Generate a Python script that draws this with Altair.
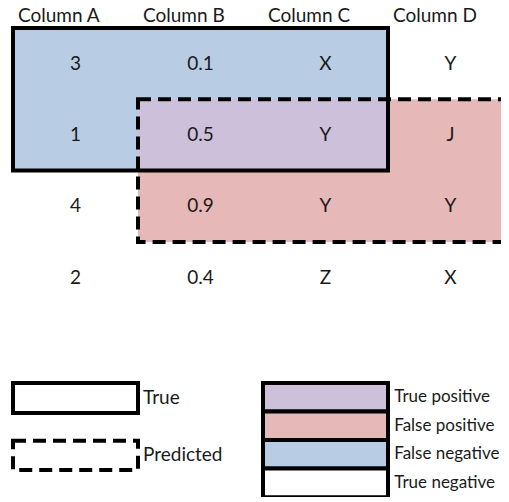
import altair as alt
import pandas as pd

# ---- data ----
columns = ["Column A", "Column B", "Column C", "Column D"]
col_a = ["3", "1", "4", "2"]
col_b = ["0.1", "0.5", "0.9", "0.4"]
col_c = ["X", "Y", "Y", "Z"]
col_d = ["Y", "J", "Y", "X"]
true_rows = [0, 1]
true_cols = [0, 1, 2]
pred_rows = [1, 2]
pred_cols = [1, 2, 3]
outline_labels = ["True", "Predicted"]
outcome_labels = ["True positive", "False positive", "False negative", "True negative"]
outcome_colors = ["#CCC0DA", "#E6B8B7", "#B8CCE4", "#FFFFFF"]

# ---- layout (column / row units) ----
W, H = 493, 489
XD = [-0.04, -0.04 + W / 125.0]
YD = [-0.2805, 6.578]
FONT = "Lato"
FS = 19
LFS = 17
TXT = "#1a1a1a"

xs = alt.Scale(domain=XD, range=[0, W], nice=False, zero=False)
ys = alt.Scale(domain=YD, range=[0, H], nice=False, zero=False)


def X(f):
    return alt.X(f"{f}:Q", scale=xs, axis=None)


def Y(f):
    return alt.Y(f"{f}:Q", scale=ys, axis=None)


# cells
cells = []
for c, vals in enumerate([col_a, col_b, col_c, col_d]):
    for r, v in enumerate(vals):
        cells.append({"x": c + 0.5, "y": r + 0.5, "t": v})
cells = pd.DataFrame(cells)
heads = pd.DataFrame({"x": [i + 0.04 for i in range(len(columns))], "y": [-0.084] * len(columns), "t": columns})

t0, t1 = min(true_cols), max(true_cols) + 1
tr0, tr1 = min(true_rows), max(true_rows) + 1
p0, p1 = min(pred_cols), max(pred_cols) + 1.3
pr0, pr1 = min(pred_rows), max(pred_rows) + 1

regions = pd.DataFrame([
    {"x": t0, "x2": t1, "y": tr0, "y2": tr1, "c": outcome_colors[2]},
    {"x": p0, "x2": p1, "y": pr0, "y2": pr1, "c": outcome_colors[1]},
    {"x": max(t0, p0), "x2": min(t1, p1), "y": max(tr0, pr0), "y2": min(tr1, pr1), "c": outcome_colors[0]},
])
true_box = pd.DataFrame([{"x": t0, "x2": t1, "y": tr0, "y2": tr1}])
pred_box = pd.DataFrame([{"x": p0, "x2": p1, "y": pr0, "y2": pr1}])

# legends
ly0 = 4.98
leg_true = pd.DataFrame([{"x": 0, "x2": 1, "y": ly0, "y2": ly0 + 0.42}])
leg_pred = pd.DataFrame([{"x": 0, "x2": 1, "y": ly0 + 0.81, "y2": ly0 + 1.22}])
leg_out_txt = pd.DataFrame({"x": [1.04, 1.04], "y": [ly0 + 0.21, ly0 + 1.015], "t": outline_labels})
step = 0.4
leg_col = pd.DataFrame([
    {"x": 2, "x2": 3, "y": ly0 + i * step, "y2": ly0 + (i + 1) * step, "c": col, "t": lab,
     "ty": ly0 + (i + 0.5) * step, "tx": 3.05}
    for i, (lab, col) in enumerate(zip(outcome_labels, outcome_colors))
])

fills = alt.Chart(regions).mark_rect().encode(
    x=X("x"), x2="x2", y=Y("y"), y2="y2", fill=alt.Fill("c:N", scale=None))
tb = alt.Chart(true_box).mark_rect(fillOpacity=0, stroke="black", strokeWidth=4).encode(
    x=X("x"), x2="x2", y=Y("y"), y2="y2")
pb = alt.Chart(pred_box).mark_rect(fillOpacity=0, stroke="black", strokeWidth=4, strokeDash=[13, 7]).encode(
    x=X("x"), x2="x2", y=Y("y"), y2="y2")
cell_t = alt.Chart(cells).mark_text(font=FONT, fontSize=FS, color=TXT, baseline="middle", align="center").encode(
    x=X("x"), y=Y("y"), text="t:N")
head_t = alt.Chart(heads).mark_text(font=FONT, fontSize=FS, color=TXT, baseline="alphabetic", align="left").encode(
    x=X("x"), y=Y("y"), text="t:N")
lt = alt.Chart(leg_true).mark_rect(fillOpacity=0, stroke="black", strokeWidth=4).encode(
    x=X("x"), x2="x2", y=Y("y"), y2="y2")
lp = alt.Chart(leg_pred).mark_rect(fillOpacity=0, stroke="black", strokeWidth=4, strokeDash=[13, 7]).encode(
    x=X("x"), x2="x2", y=Y("y"), y2="y2")
lo_t = alt.Chart(leg_out_txt).mark_text(font=FONT, fontSize=FS, color=TXT, baseline="middle", align="left").encode(
    x=X("x"), y=Y("y"), text="t:N")
lc = alt.Chart(leg_col).mark_rect(stroke="black", strokeWidth=4).encode(
    x=X("x"), x2="x2", y=Y("y"), y2="y2", fill=alt.Fill("c:N", scale=None))
lc_t = alt.Chart(leg_col).mark_text(font=FONT, fontSize=LFS, color=TXT, baseline="middle", align="left").encode(
    x=alt.X("tx:Q", scale=xs, axis=None), y=alt.Y("ty:Q", scale=ys, axis=None), text="t:N")

chart = alt.layer(fills, tb, pb, cell_t, head_t, lt, lp, lo_t, lc, lc_t).properties(
    width=W, height=H, autosize=alt.AutoSizeParams(type="none"), padding=0
).configure_view(strokeWidth=0)

chart.save("out.html", embed_options={"renderer": "svg", "actions": False})
